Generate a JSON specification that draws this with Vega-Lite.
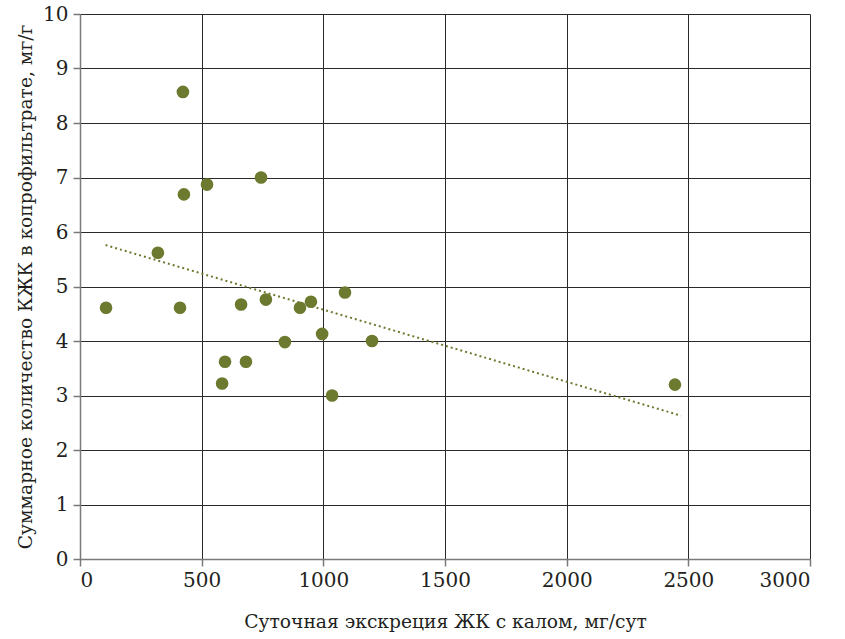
{
  "$schema": "https://vega.github.io/schema/vega-lite/v6.json",
  "autosize": "none",
  "width": 730,
  "height": 545,
  "padding": {"left": 80, "top": 14, "right": 35, "bottom": 80},
  "background": "white",
  "config": {
    "view": {"stroke": null},
    "font": "DejaVu Serif",
    "axis": {
      "labelFont": "DejaVu Serif",
      "titleFont": "DejaVu Serif",
      "labelFontSize": 20,
      "titleFontSize": 18.7,
      "titleFontWeight": "normal",
      "labelColor": "#231f20",
      "titleColor": "#231f20",
      "gridColor": "#2a2a2a",
      "gridWidth": 1,
      "gridOpacity": 1,
      "domainColor": "#7a7a7a",
      "domainWidth": 1.5,
      "tickColor": "#7a7a7a",
      "tickWidth": 1.5,
      "tickSize": 7
    }
  },
  "datasets": {
    "points": [
      {"x": 107, "y": 4.61},
      {"x": 320, "y": 5.62},
      {"x": 423, "y": 8.57},
      {"x": 427, "y": 6.69},
      {"x": 411, "y": 4.61},
      {"x": 522, "y": 6.87},
      {"x": 744, "y": 7.0},
      {"x": 584, "y": 3.22},
      {"x": 596, "y": 3.62},
      {"x": 682, "y": 3.62},
      {"x": 662, "y": 4.67},
      {"x": 764, "y": 4.76},
      {"x": 842, "y": 3.98},
      {"x": 904, "y": 4.61},
      {"x": 949, "y": 4.72},
      {"x": 995, "y": 4.13},
      {"x": 1089, "y": 4.89},
      {"x": 1036, "y": 3.0},
      {"x": 1200, "y": 4.0},
      {"x": 2445, "y": 3.2}
    ],
    "trend": [
      {"x": 105, "y": 5.76},
      {"x": 2470, "y": 2.63}
    ]
  },
  "layer": [
    {
      "data": {"name": "trend"},
      "mark": {"type": "line", "color": "#6b7a2e", "strokeDash": [2, 3], "strokeWidth": 2},
      "encoding": {
        "x": {
          "field": "x", "type": "quantitative",
          "scale": {"domain": [0, 3000], "nice": false},
          "axis": {"values": [0, 500, 1000, 1500, 2000, 2500, 3000], "format": "d", "title": "Суточная экскреция ЖК с калом, мг/сут", "titlePadding": 22, "labelPadding": 4, "grid": true}
        },
        "y": {
          "field": "y", "type": "quantitative",
          "scale": {"domain": [0, 10], "nice": false},
          "axis": {"values": [0, 1, 2, 3, 4, 5, 6, 7, 8, 9, 10], "title": "Суммарное количество КЖК в копрофильтрате, мг/г", "titlePadding": 7, "labelPadding": 5, "grid": true}
        }
      }
    },
    {
      "data": {"name": "points"},
      "mark": {"type": "circle", "color": "#6b7a2e", "size": 160, "opacity": 1},
      "encoding": {
        "x": {"field": "x", "type": "quantitative"},
        "y": {"field": "y", "type": "quantitative"}
      }
    }
  ]
}
